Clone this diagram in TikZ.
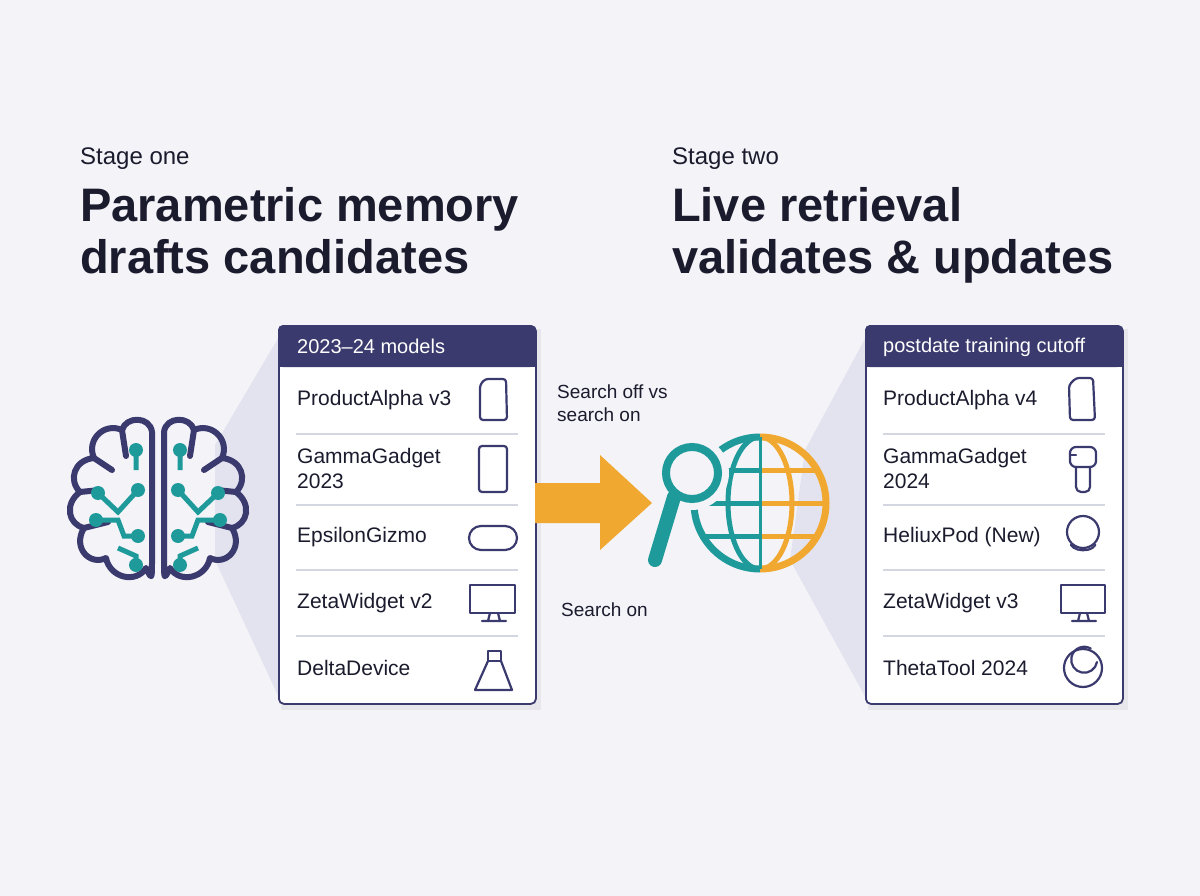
\documentclass[tikz,border=0pt]{standalone}
\usepackage{fontspec}
\setmainfont{Liberation Sans}
\begin{document}
\definecolor{bg}{HTML}{F3F3F8}
\definecolor{navy}{HTML}{3B3A6E}
\definecolor{ink}{HTML}{1B1B2E}
\definecolor{teal}{HTML}{1E9A9A}
\definecolor{org}{HTML}{F0A830}
\definecolor{conecol}{HTML}{E3E3EF}
\definecolor{sep}{HTML}{D4D6E2}
\begin{tikzpicture}[x=1pt,y=-1pt,
  stage/.style={anchor=base west,font=\fontsize{24}{28}\selectfont,text=ink,inner sep=0},
  title/.style={anchor=base west,font=\fontsize{47}{52}\selectfont\bfseries,text=ink,inner sep=0},
  item/.style={anchor=west,font=\fontsize{21}{25}\selectfont,text=ink,inner sep=0,align=left},
  hdr/.style={anchor=west,font=\fontsize{20}{24}\selectfont,text=white,inner sep=0},
  lbl/.style={anchor=north west,font=\fontsize{19}{23}\selectfont,text=ink,inner sep=0,align=left},
  ic/.style={draw=navy,line width=2.2pt,line join=round,line cap=round},
  br/.style={draw=navy,line width=6pt,line cap=round,line join=round},
  dot/.style={circle,fill=teal,minimum size=14pt,inner sep=0}]
\fill[bg] (0,0) rectangle (1200,896);
\useasboundingbox (0,0) rectangle (1200,896);
% texts
\node[stage] (s1) at (80,165) {Stage one};
\node[title] (t1) at (80,222) {Parametric memory};
\node[title] (t1b) at (80,274) {drafts candidates};
\node[stage] (s2) at (672,165) {Stage two};
\node[title] (t2) at (672,222) {Live retrieval};
\node[title] (t2b) at (672,274) {validates \& updates};
% cones
\fill[conecol] (215,445) -- (280,335) -- (280,700) -- (215,560) -- cycle;
\fill[conecol] (805,450) -- (867,335) -- (867,700) -- (790,560) -- cycle;
% cards
\foreach \x/\n in {278/L,865/R}{
  \fill[black,opacity=0.05] (\x+3,329) rectangle (\x+263,710);
  \node[draw=navy,line width=1.8pt,fill=white,rounded corners=5pt,minimum width=257pt,minimum height=378pt,anchor=north west,inner sep=0] (card\n) at (\x,325) {};
  \fill[navy,rounded corners=5pt] (\x,325) rectangle (\x+257,367);
  \fill[navy] (\x,355) rectangle (\x+257,367);
  \foreach \yy in {434,505,570,636}{\draw[sep,line width=1.2pt] (\x+18,\yy) -- (\x+240,\yy);}
}
\node[hdr] (hL) at (297,346) {2023–24 models};
\node[hdr] (hR) at (883,347) {postdate training cutoff};
\node[item] (a1) at (297,400) {ProductAlpha v3};
\node[item] (a2) at (297,468) {GammaGadget\\2023};
\node[item] (a3) at (297,537) {EpsilonGizmo};
\node[item] (a4) at (297,603) {ZetaWidget v2};
\node[item] (a5) at (297,668) {DeltaDevice};
\node[item] (b1) at (883,400) {ProductAlpha v4};
\node[item] (b2) at (883,468) {GammaGadget\\2024};
\node[item] (b3) at (883,537) {HeliuxPod (New)};
\node[item] (b4) at (883,603) {ZetaWidget v3};
\node[item] (b5) at (883,668) {ThetaTool 2024};
% left icons
\draw[ic,rounded corners=3pt] (480,420) -- (480,385) -- (485,379) -- (506,379) -- (507,420) -- cycle;
\draw[ic,rounded corners=3pt] (479,446) rectangle (507,492);
\draw[ic,rounded corners=12pt] (469,526) rectangle (517,550);
\draw[ic] (470,585) rectangle (515,613); \draw[ic] (490,613) -- (488,621) (498,613) -- (500,621) (482,621) -- (506,621);
\draw[ic] (488,651) rectangle (501,661); \draw[ic] (488,661) -- (475,690) -- (512,690) -- (501,661);
% right icons
\draw[ic,rounded corners=3pt] (1070,420) -- (1069,385) -- (1076,378) -- (1093,378) -- (1095,420) -- cycle;
\draw[ic,rounded corners=6pt] (1070,447) rectangle (1096,467);
\draw[ic,rounded corners=5pt] (1076,467) -- (1076,492) -- (1090,492) -- (1090,467);
\draw[ic] (1070,455) -- (1076,455);
\draw[ic] (1083,532) circle (16pt); \draw[ic] (1071,545) arc (200:340:13pt and 8pt);
\draw[ic] (1061,585) rectangle (1105,613); \draw[ic] (1080,613) -- (1078,621) (1087,613) -- (1089,621) (1072,621) -- (1096,621);
\draw[ic] (1083,668) circle (19pt); \draw[ic] (1097,662) arc (-10:-300:13pt);
% arrow
\fill[org] (535,483) -- (600,483) -- (600,455) -- (652,503) -- (600,550) -- (600,523) -- (535,523) -- cycle;
\node[lbl] (l1) at (557,385) {Search off vs\\search on};
\node[lbl] (l2) at (561,603) {Search on};
% globe
\coordinate (g) at (760,503);
\begin{scope}
\clip (g) ++(0,-72) rectangle ++(-80,144);
\draw[teal,line width=7pt] (g) circle (66pt);
\draw[teal,line width=5pt] (g) ellipse (32pt and 66pt);
\draw[teal,line width=5pt] (692,503) -- (760,503) (700,470) -- (760,470) (700,536) -- (760,536);
\end{scope}
\begin{scope}
\clip (g) ++(0,-72) rectangle ++(80,144);
\draw[org,line width=7pt] (g) circle (66pt);
\draw[org,line width=5pt] (g) ellipse (32pt and 66pt);
\draw[org,line width=5pt] (760,503) -- (828,503) (760,470) -- (820,470) (760,536) -- (820,536);
\end{scope}
\draw[teal,line width=3pt] (760,437) -- (760,569);
\fill[bg] (692,473) circle (37pt);
\draw[teal,line width=8pt] (692,473) circle (26pt);
\draw[teal,line width=14pt,line cap=round] (674,497) -- (655,560);
\node[inner sep=0,minimum size=1pt] (globe) at (g) {};
% brain
\node[inner sep=0] (brain) at (158,503) {};
\foreach \s in {1,-1}{
\begin{scope}[xshift=158pt,xscale=\s]
 \draw[br] (-6,432) .. controls (-8,416) and (-32,416) .. (-36,430)
   .. controls (-54,422) and (-72,440) .. (-64,458)
   .. controls (-84,460) and (-90,480) .. (-78,492)
   .. controls (-94,504) and (-90,524) .. (-74,528)
   .. controls (-86,548) and (-68,566) .. (-52,558)
   .. controls (-48,578) and (-22,584) .. (-12,568)
   .. controls (-6,580) and (-6,580) .. (-6,560) -- cycle;
 \draw[br] (-36,430) -- (-32,456) (-64,458) -- (-46,470) (-78,492) -- (-58,490) (-74,528) -- (-50,522);
 \draw[teal,line width=5pt] (-22,452) -- (-22,470) (-20,490) -- (-40,512) -- (-60,493)
   (-56,520) -- (-40,520) -- (-34,536) -- (-20,536)
   (-22,565) -- (-22,556) -- (-40,548);
 \node[dot] at (-22,450) {}; \node[dot] at (-20,490) {}; \node[dot] at (-60,493) {};
 \node[dot] at (-62,520) {}; \node[dot] at (-20,536) {}; \node[dot] at (-22,565) {};
\end{scope}}
\end{tikzpicture}
\end{document}
